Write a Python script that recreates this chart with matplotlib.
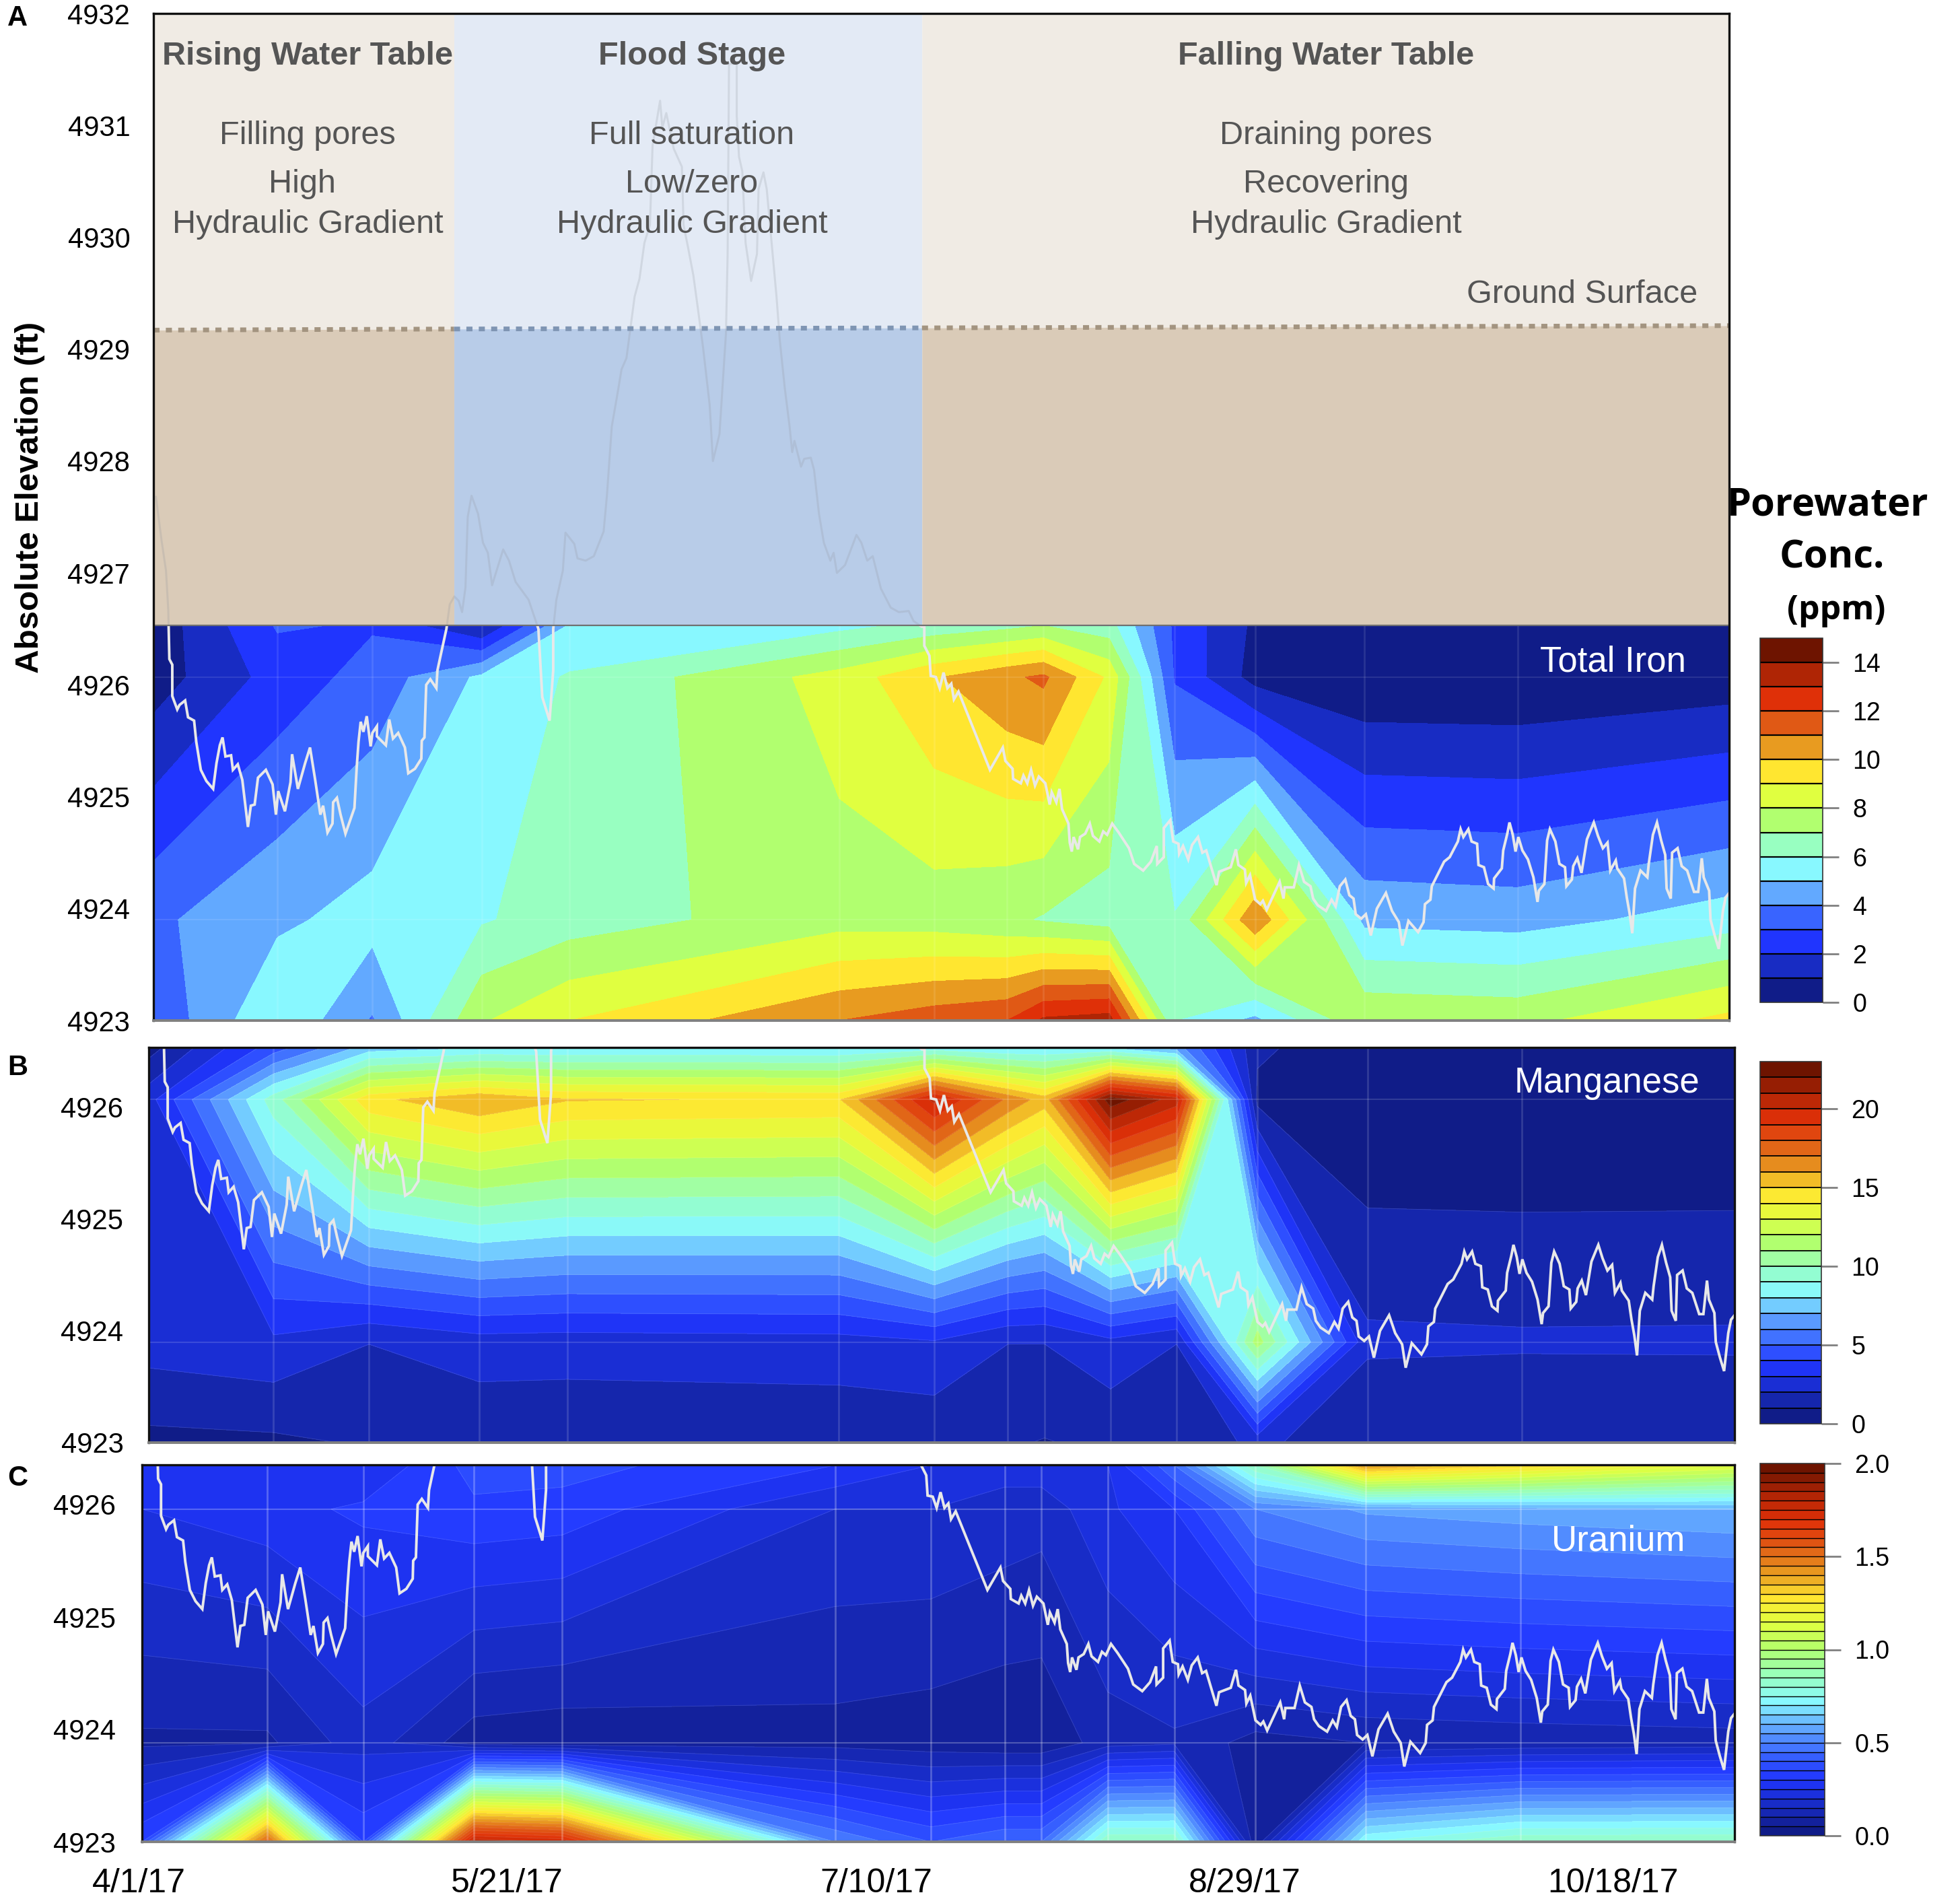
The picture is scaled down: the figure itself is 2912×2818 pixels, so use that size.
import numpy as np
import matplotlib
matplotlib.use('Agg')
from matplotlib import pyplot as plt
from matplotlib.colors import LinearSegmentedColormap
from matplotlib.patches import Rectangle
from matplotlib.transforms import ScaledTranslation

W, H = 2912, 2818
plt.rcParams['font.family'] = ['Liberation Sans', 'DejaVu Sans']

# sampling dates, days after 4/1/17
days = [0, 17, 30, 45, 57, 94, 107, 117, 122, 131, 140, 151, 166, 187, 216]
rows = [4923, 4923.9, 4926.07, 4926.53]
rows_u = [4923, 4923.88, 4925.96, 4926.35]

# Total iron, one list per depth row (ppm)
fe_bottom = [3.2, 5.95, 3.9, 7.9, 9.0, 11.0, 11.6, 12.0, 13.2, 13.5, 6.0, 4.7, 7.86, 7.7, 9.3]
fe_low = [3.8, 4.8, 5.4, 5.9, 6.5, 7.6, 7.5, 7.2, 6.9, 6.5, 6.1, 10.9, 4.75, 4.6, 5.49]
fe_high = [0.5, 2.4, 3.4, 5.2, 6.1, 8.4, 9.9, 10.8, 11.2, 8.8, 2.9, 0.6, 0.14, 0.1, 0.42]
fe_top = [0.35, 3.1, 2.9, 0.9, 5.1, 5.7, 6.3, 6.7, 7.0, 6.4, 2.8, 0.8, 0.1, 0.1, 0.1]

# Manganese
mn_bottom = [0.7, 0.8, 1.1, 1.16, 1.15, 1.2, 1.2, 1.1, 0.95, 1.2, 1.05, 2.3, 1.03, 1.0, 1.0]
mn_low = [2.45, 2.8, 2.02, 2.55, 2.5, 2.6, 2.9, 2.02, 2.02, 2.7, 2.02, 11.5, 2.2, 2.13, 2.15]
mn_high = [2.6, 9.5, 14.7, 15.9, 15.07, 14.9, 20.3, 16.8, 15.5, 22.6, 20.5, 0.7, 0.03, 0.02, 0.03]
mn_top = [0.6, 4.5, 7.5, 8.0, 8.0, 8.0, 8.5, 8.0, 8.0, 8.0, 6.5, 1.2, 0.2, 0.2, 0.2]

# Uranium
u_bottom = [0.35, 1.55, 0.35, 1.8, 1.75, 0.5, 0.4, 0.45, 0.45, 0.85, 0.85, 0.06, 0.75, 0.85, 0.85]
u_low = [0.09, 0.09, 0.18, 0.07, 0.06, 0.08, 0.07, 0.06, 0.06, 0.125, 0.14, 0.08, 0.10, 0.11, 0.12]
u_high = [0.25, 0.28, 0.31, 0.34, 0.33, 0.20, 0.20, 0.18, 0.17, 0.24, 0.30, 0.50, 0.56, 0.58, 0.60]
u_top = [0.30, 0.30, 0.25, 0.37, 0.37, 0.30, 0.25, 0.22, 0.23, 0.25, 0.45, 0.85, 1.42, 1.3, 1.15]

# water table elevation
water_day = [0.34, 1.11, 1.72, 2.03, 2.09, 2.18, 2.58, 2.58, 3.26, 3.57, 4.34, 4.74, 5.57, 5.87, 6.49, 7.26, 8.18, 8.64, 9.10, 9.47,
             9.87, 10.64, 10.89, 11.56, 12.18, 12.95, 13.35, 13.87, 14.33, 15.41, 16.33, 16.79, 17.10, 18.02, 18.79, 19.00, 19.80, 20.79, 21.46, 22.17,
             22.88, 23.25, 23.86, 24.54, 24.63, 25.15, 25.65, 26.32, 27.55, 27.86, 28.11, 28.41, 28.78, 29.24, 29.77, 30.01, 30.63, 30.63, 31.86, 32.32,
             32.84, 33.55, 34.47, 34.93, 35.85, 36.72, 36.78, 37.15, 37.39, 37.95, 38.78, 38.93, 39.39, 40.16, 40.62, 41.24, 41.85, 42.31, 42.77, 43.08,
             43.60, 44.49, 45.17, 45.84, 46.42, 47.94, 48.74, 49.64, 50.31, 51.43, 52.77, 53.3, 54.3, 54.8, 54.8, 55.23, 56.12, 56.48, 57.69, 58.13,
             59.25, 60.37, 61.71, 62.16, 62.83, 63.50, 64.17, 64.84, 65.29, 65.96, 66.63, 67.30, 68.06, 68.42, 69.45, 69.76, 70.30, 71.33, 72.44, 72.67,
             73.34, 74.01, 74.68, 75.35, 76.25, 76.69, 77.59, 78.48, 78.71, 78.9, 79.96, 79.96, 80.27, 80.72, 81.17, 81.93, 82.73, 82.95, 83.62, 84.07,
             84.74, 85.41, 85.86, 86.53, 87.2, 87.56, 87.87, 88.77, 89.21, 90.11, 90.56, 91.23, 91.9, 92.79, 93.24, 93.69, 94.8, 96.37, 97.04, 97.85,
             98.6, 99.72, 101.07, 102.18, 103.53, 104.2, 105.31, 105.67, 105.67, 106.37, 106.55, 107.25, 107.78, 108.31, 108.84, 109.37, 109.73, 110.36, 114.67, 116.43,
             116.79, 117.77, 117.84, 118.9, 119.26, 119.79, 120.31, 120.85, 121.37, 122.26, 122.86, 123.14, 123.77, 124.2, 124.55, 125.43, 125.61, 125.89, 126.14, 126.74,
             127.02, 127.73, 128.36, 128.79, 129.67, 130.2, 130.73, 131.43, 132.32, 133.73, 134.44, 135.67, 136.73, 137.54, 137.61, 138.5, 138.5, 139.38, 139.8, 140.51,
             140.61, 141.14, 141.85, 142.38, 143.19, 143.79, 144.32, 145.73, 146.08, 147.67, 148.38, 148.73, 149.61, 149.79, 150.32, 151.03, 151.73, 152.09, 152.61, 154.38,
             154.91, 155.08, 156.32, 157.03, 157.73, 158.61, 158.97, 159.61, 160.74, 161.5, 162.06, 162.63, 163.38, 163.94, 164.51, 164.81, 165.56, 166.2, 166.88, 167.71,
             168.95, 169.78, 170.72, 171.21, 172.04, 173.36, 174.11, 174.3, 175.05, 175.24, 176.93, 177.69, 178.81, 179.19, 179.57, 180.25, 180.7, 181.45, 181.64, 182.39,
             182.96, 183.71, 183.78, 184.84, 185.03, 185.59, 185.89, 186.34, 186.72, 187.1, 187.66, 188.42, 189.17, 189.73, 189.92, 190.67, 190.86, 191.05, 191.43, 192.18,
             192.74, 193.5, 193.69, 194.44, 194.63, 195.19, 195.76, 196.51, 197.45, 198.02, 198.69, 199.33, 199.71, 200.46, 200.65, 201.59, 201.97, 202.35, 202.72, 203.1,
             203.85, 204.79, 204.98, 205.55, 206.11, 206.68, 207.24, 207.43, 208.0, 208.18, 208.93, 209.5, 210.25, 211.19, 211.76, 212.25, 212.51, 213.26, 213.45, 214.02,
             214.58, 215.15, 215.52, 216.0]
water_elev = [4927.68, 4927.29, 4927.02, 4926.67, 4926.50, 4926.23, 4926.18, 4925.90, 4925.78, 4925.82, 4925.86, 4925.71, 4925.68, 4925.49, 4925.24, 4925.14, 4925.07, 4925.30, 4925.46, 4925.53,
              4925.36, 4925.37, 4925.24, 4925.29, 4925.15, 4924.73, 4924.92, 4924.93, 4925.17, 4925.24, 4925.11, 4924.84, 4925.05, 4924.87, 4925.13, 4925.38, 4925.07, 4925.30, 4925.44, 4925.15,
              4924.84, 4924.92, 4924.68, 4924.76, 4924.95, 4924.99, 4924.84, 4924.67, 4924.90, 4925.26, 4925.49, 4925.67, 4925.58, 4925.72, 4925.45, 4925.57, 4925.63, 4925.54, 4925.46, 4925.69,
              4925.52, 4925.57, 4925.44, 4925.21, 4925.25, 4925.34, 4925.50, 4925.53, 4926.00, 4926.05, 4925.97, 4926.13, 4926.27, 4926.50, 4926.72, 4926.79, 4926.75, 4926.65, 4926.87, 4927.50,
              4927.69, 4927.53, 4927.27, 4927.18, 4926.89, 4927.21, 4927.11, 4926.92, 4926.86, 4926.76, 4926.50, 4925.89, 4925.68, 4926.13, 4926.50, 4926.76, 4927.02, 4927.36, 4927.26, 4927.13,
              4927.11, 4927.15, 4927.37, 4927.69, 4928.31, 4928.56, 4928.82, 4928.92, 4929.14, 4929.47, 4929.63, 4929.95, 4930.11, 4930.82, 4931.22, 4930.98, 4931.11, 4930.79, 4930.63, 4930.11,
              4929.89, 4929.66, 4929.34, 4929.01, 4928.50, 4928.00, 4928.24, 4929.14, 4929.85, 4931.55, 4931.55, 4931.08, 4930.72, 4930.59, 4929.95, 4929.61, 4929.85, 4930.43, 4930.58, 4930.43,
              4929.95, 4929.47, 4929.08, 4928.66, 4928.31, 4928.08, 4928.18, 4927.95, 4928.02, 4928.03, 4927.92, 4927.53, 4927.27, 4927.11, 4927.18, 4927.00, 4927.07, 4927.34, 4927.27, 4927.11,
              4927.15, 4926.86, 4926.69, 4926.65, 4926.66, 4926.57, 4926.52, 4926.52, 4926.35, 4926.26, 4926.08, 4926.07, 4925.97, 4926.11, 4925.97, 4926.01, 4925.87, 4925.94, 4925.24, 4925.44,
              4925.32, 4925.25, 4925.16, 4925.12, 4925.19, 4925.12, 4925.24, 4925.10, 4925.18, 4925.12, 4924.93, 4925.04, 4924.95, 4925.07, 4924.89, 4924.76, 4924.59, 4924.51, 4924.64, 4924.53,
              4924.64, 4924.67, 4924.76, 4924.65, 4924.60, 4924.69, 4924.66, 4924.76, 4924.68, 4924.54, 4924.40, 4924.34, 4924.42, 4924.56, 4924.40, 4924.46, 4924.72, 4924.79, 4924.60, 4924.58,
              4924.49, 4924.56, 4924.44, 4924.57, 4924.64, 4924.50, 4924.52, 4924.21, 4924.33, 4924.37, 4924.53, 4924.39, 4924.35, 4924.23, 4924.30, 4924.08, 4924.04, 4924.07, 4923.99, 4924.24,
              4924.09, 4924.19, 4924.19, 4924.39, 4924.24, 4924.20, 4924.09, 4924.03, 4923.98, 4924.08, 4924.02, 4924.20, 4924.26, 4924.12, 4924.09, 4923.95, 4923.91, 4923.95, 4923.76, 4924.00,
              4924.14, 4923.98, 4923.88, 4923.67, 4923.89, 4923.79, 4923.88, 4924.04, 4924.08, 4924.20, 4924.42, 4924.46, 4924.60, 4924.71, 4924.64, 4924.71, 4924.60, 4924.58, 4924.39, 4924.37,
              4924.22, 4924.18, 4924.27, 4924.36, 4924.52, 4924.67, 4924.77, 4924.66, 4924.51, 4924.64, 4924.52, 4924.44, 4924.28, 4924.06, 4924.16, 4924.22, 4924.42, 4924.61, 4924.71, 4924.60,
              4924.40, 4924.37, 4924.20, 4924.26, 4924.38, 4924.45, 4924.32, 4924.62, 4924.77, 4924.65, 4924.54, 4924.59, 4924.34, 4924.43, 4924.36, 4924.27, 4924.10, 4923.96, 4923.78, 4924.18,
              4924.34, 4924.28, 4924.40, 4924.66, 4924.77, 4924.61, 4924.48, 4924.18, 4924.09, 4924.50, 4924.54, 4924.38, 4924.34, 4924.15, 4924.15, 4924.45, 4924.28, 4924.16, 4923.90, 4923.76,
              4923.64, 4923.98, 4924.10, 4924.14]

band_colors = ['#101c88', '#182cc4', '#2035ff', '#3a66ff', '#62a8ff', '#88f8ff', '#98ffc0', '#b0ff70',
               '#e0ff40', '#ffe630', '#e89a20', '#e05a15', '#e03008', '#b02505', '#6e1400']
date_ticks = [0, 50, 100, 150, 200]
date_labels = ['4/1/17', '5/21/17', '7/10/17', '8/29/17', '10/18/17']

phase_edges = [0, 41.2, 105.35, 216]
phase_up = ['#f0ebe4', '#e3eaf5', '#f0ebe4']
phase_low = ['#dacbb8', '#b8cce8', '#dacbb8']
dot_colors = ['#a39480', '#7f95b3', '#a39480']
aquifer_top = 4926.53
ground = [4929.17, 4929.18, 4929.19, 4929.21]


def make_axes(l, t, r, b):
    return fig.add_axes([l / W, 1 - b / H, (r - l) / W, (b - t) / H])


def label(x, y, s, **kw):
    kw.setdefault('ha', 'center')
    kw.setdefault('va', 'center')
    fig.text(x / W, 1 - y / H, s, **kw)


def panel(ax, depth, table, vmax, step, ytop, grid_alpha, edge_alpha):
    levels = np.linspace(0, vmax, int(round(vmax / step)) + 1)
    cmap = LinearSegmentedColormap.from_list('conc', band_colors, N=256)
    colors = [cmap(v) for v in np.linspace(0, 1, len(levels) - 1)]
    cs = ax.contourf(days, depth, np.array(table), levels=levels, colors=colors)
    if edge_alpha > 0:
        ax.contour(days, depth, np.array(table), levels=levels, colors='white', linewidths=0.7, alpha=edge_alpha)
    for d in days[1:-1]:
        ax.axvline(d, color='white', lw=2, alpha=grid_alpha, zorder=2)
    for z in depth[1:3]:
        ax.axhline(z, color='white', lw=1.5, alpha=grid_alpha, zorder=2)
    ax.plot(water_day, water_elev, color='#e8e8e8', lw=2.8, zorder=3, solid_joinstyle='miter')
    ax.set_xlim(0, 216)
    ax.set_ylim(4923, ytop)
    ax.set_yticks(range(4923, int(ytop) + 1))
    ax.set_xticks([])
    ax.tick_params(axis='y', length=0, labelsize=30)
    for name in ['left', 'top', 'right', 'bottom']:
        ax.spines[name].set_linewidth(2.4)
        ax.spines[name].set_color('#111111')
        ax.spines[name].set_zorder(10)
    ax.spines['bottom'].set_linewidth(2.8)
    ax.spines['bottom'].set_color('#808080')
    return cs


def colour_bar(cs, box, ticks, edge, fmt=None):
    cax = make_axes(*box)
    cb = fig.colorbar(cs, cax=cax, ticks=ticks, drawedges=True, format=fmt)
    cb.dividers.set_color('black')
    cb.dividers.set_linewidth(edge)
    cb.outline.set_edgecolor('#333333')
    cb.outline.set_linewidth(1.2)
    cax.tick_params(length=17, width=2, color='#808080', labelsize=27, pad=15)
    return cb


fig = plt.figure(figsize=(W / 100, H / 100), dpi=100)

# A
ax_a = make_axes(228, 20, 2569, 1516)
cs_fe = panel(ax_a, rows, [fe_bottom, fe_low, fe_high, fe_top], 15, 1, 4932, 0.1, 0)
ax_a.set_yticks(range(4923, 4933))
ax_a.tick_params(axis='y', pad=25)
for i in range(3):
    x0, x1 = phase_edges[i], phase_edges[i + 1]
    ax_a.fill_between([x0, x1], [ground[i], ground[i + 1]], 4932, color=phase_up[i], lw=0, zorder=4)
    ax_a.fill_between([x0, x1], aquifer_top, [ground[i], ground[i + 1]], color=phase_low[i], lw=0, zorder=4)
    ax_a.plot([x0, x1], [ground[i], ground[i + 1]], color=dot_colors[i], lw=5, ls=(0, (1.3, 1.35)), zorder=6)
ax_a.axhline(aquifer_top, color='#707070', lw=1.6, zorder=6)
faded, = ax_a.plot(water_day, water_elev, color='#8f949c', lw=2.2, alpha=0.22, zorder=5)
faded.set_clip_path(Rectangle((0, aquifer_top), 216, 4932 - aquifer_top, transform=ax_a.transData))

# B
ax_b = make_axes(221, 1556, 2577, 2143)
cs_mn = panel(ax_b, rows, [mn_bottom, mn_low, mn_high, mn_top], 23, 1, 4923 + 587 / 166, 0.14, 0.12)
ax_b.tick_params(axis='y', pad=27)

# C
ax_c = make_axes(211, 2176, 2577, 2736)
cs_u = panel(ax_c, rows_u, [u_bottom, u_low, u_high, u_top], 2.0, 0.05, 4923 + 560 / 167, 0.25, 0.12)
ax_c.tick_params(axis='y', pad=28)
ax_c.set_xticks(date_ticks)
ax_c.set_xticklabels(date_labels)
ax_c.tick_params(axis='x', length=0, labelsize=36, pad=28)
for t in ax_c.get_xticklabels():
    t.set_transform(t.get_transform() + ScaledTranslation(-0.05, 0, fig.dpi_scale_trans))

colour_bar(cs_fe, (2615, 948, 2708, 1489), range(0, 15, 2), 1.6)
colour_bar(cs_mn, (2615, 1577, 2706, 2115), range(0, 21, 5), 1.3)
colour_bar(cs_u, (2615, 2174, 2711, 2727), [0, 0.5, 1, 1.5, 2], 1.0, fmt='%.1f')

# text on the top of panel A
grey = '#555555'
label(457, 84, 'Rising Water Table', color=grey, fontsize=35, fontweight='bold')
label(1028, 84, 'Flood Stage', color=grey, fontsize=35, fontweight='bold')
label(1970, 84, 'Falling Water Table', color=grey, fontsize=35, fontweight='bold')
label(457, 201, 'Filling pores', color=grey, fontsize=35)
label(449, 273, 'High', color=grey, fontsize=35)
label(457, 334, 'Hydraulic Gradient', color=grey, fontsize=35)
label(1028, 201, 'Full saturation', color=grey, fontsize=35)
label(1028, 273, 'Low/zero', color=grey, fontsize=35)
label(1028, 334, 'Hydraulic Gradient', color=grey, fontsize=35)
label(1970, 201, 'Draining pores', color=grey, fontsize=35)
label(1970, 273, 'Recovering', color=grey, fontsize=35)
label(1970, 334, 'Hydraulic Gradient', color=grey, fontsize=35)
label(2522, 437, 'Ground Surface', color=grey, fontsize=35, ha='right')

label(2396, 984, 'Total Iron', color='white', fontsize=38)
label(2387, 1609, 'Manganese', color='white', fontsize=38)
label(2405, 2290, 'Uranium', color='white', fontsize=38)

label(45, 739, 'Absolute Elevation (ft)', fontsize=35.5, fontweight='bold', rotation=90)
label(26, 27, 'A', fontsize=30, fontweight='bold')
label(26, 1586, 'B', fontsize=30, fontweight='bold')
label(26, 2196, 'C', fontsize=30, fontweight='bold')

label(2716, 750, 'Porewater', fontsize=41.5, fontweight='bold', family='Open Sans')
label(2722, 829, 'Conc.', fontsize=41.5, fontweight='bold', family='Open Sans')
label(2728, 907, '(ppm)', fontsize=36, fontweight='bold', family='Open Sans')

fig.savefig('out.png', dpi=100)
